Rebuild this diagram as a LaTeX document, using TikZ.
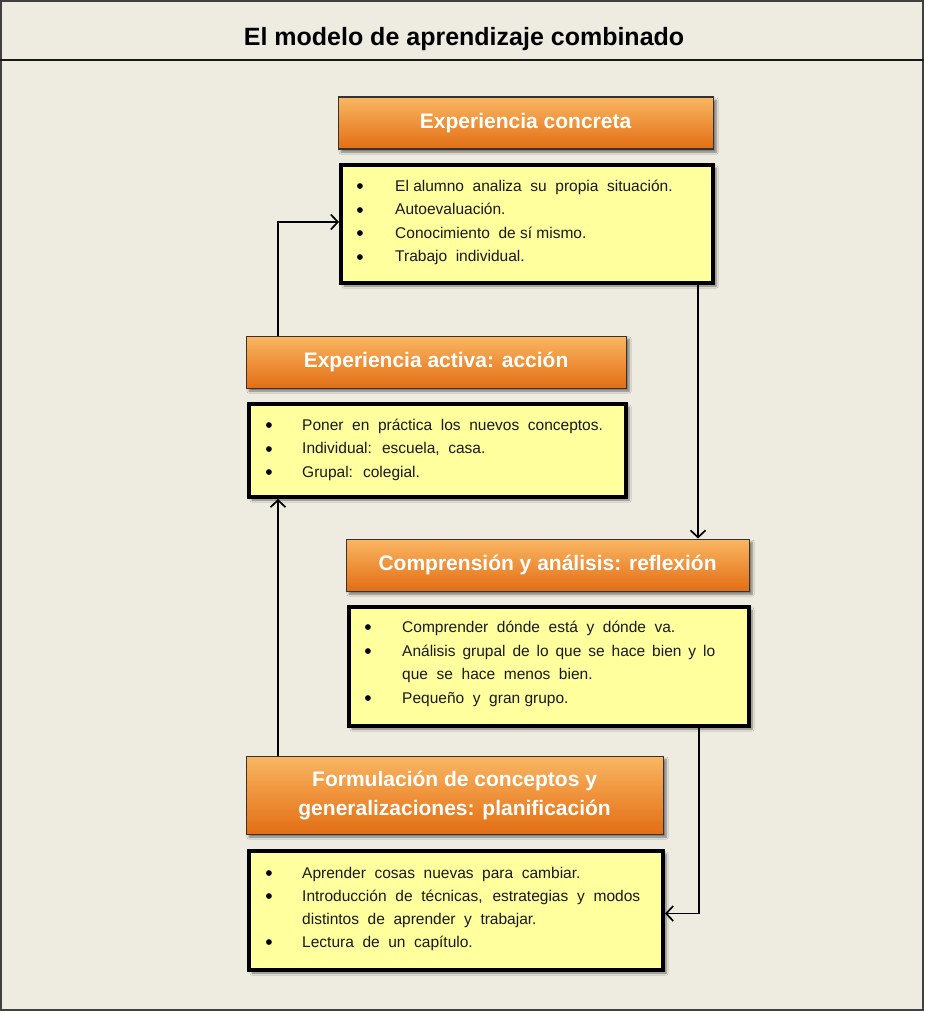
\documentclass[tikz,border=0pt]{standalone}
\usepackage{fontspec}
\setmainfont{Liberation Sans}
\usetikzlibrary{arrows.meta,shadows.blur,calc}

\definecolor{bgbeige}{RGB}{238,235,225}
\definecolor{noteyellow}{RGB}{255,255,158}
\definecolor{orangetop}{RGB}{250,182,98}
\definecolor{orangebot}{RGB}{226,110,20}

\newcommand{\bodyfont}{\fontsize{15.5}{20}\selectfont}
\newcommand{\headfont}{\fontsize{21}{29}\selectfont\bfseries}

\tikzset{
  softshadow/.style={blur shadow={shadow xshift=3pt, shadow yshift=-3pt,
      shadow blur steps=6, shadow opacity=50}},
  headbox/.style={draw=black!80, line width=1.2pt, top color=orangetop,
      bottom color=orangebot, text=white, font=\headfont, align=center,
      anchor=north west, inner sep=0pt, softshadow},
  notebox/.style={draw=black, line width=4pt, fill=noteyellow,
      anchor=north west, inner sep=0pt, softshadow},
  itemtext/.style={anchor=base west, inner sep=0pt, font=\bodyfont, text=black!90},
  itemdot/.style={anchor=base, inner sep=0pt, font=\fontsize{21}{21}\selectfont,
      text=black, yshift=-2.5pt},
  conn/.style={line width=1.7pt, black,
      -{Straight Barb[length=7pt,width=15pt,line width=1.7pt]}},
}

\begin{document}
\begin{tikzpicture}[x=1pt,y=-1pt]
  % page and title bar
  \fill[bgbeige] (0,0) rectangle (924,1011);
  \useasboundingbox (0,0) rectangle (924,1011);
  \draw[line width=1.5pt, black!75] (1,1) rectangle (923,1010);
  \draw[line width=2.2pt, black!90] (0,60) -- (924,60);
  \node[anchor=base, inner sep=0pt, font=\fontsize{25}{30}\selectfont\bfseries]
    (title) at (464,46) {El modelo de aprendizaje combinado};

  % headings
  \node[headbox, minimum width=375pt, minimum height=52pt] (h1) at (337.5,96.5)
    {Experiencia concreta};
  \node[headbox, minimum width=380pt, minimum height=52pt] (h2) at (245.5,335.5)
    {Experiencia activa: acción};
  \node[headbox, minimum width=403pt, minimum height=52pt] (h3) at (345.5,538.5)
    {Comprensión y análisis: reflexión};
  \node[headbox, minimum width=417pt, minimum height=78pt] (h4) at (245.5,755.5)
    {Formulación de conceptos y\\generalizaciones: planificación};

  % note boxes
  \node[notebox, minimum width=372pt, minimum height=118pt] (b1) at (339,163) {};
  \node[notebox, minimum width=377pt, minimum height=93pt]  (b2) at (247,402) {};
  \node[notebox, minimum width=400pt, minimum height=119pt] (b3) at (347,605) {};
  \node[notebox, minimum width=414pt, minimum height=119pt] (b4) at (247,849) {};

  % items of the first box
  \node[itemdot] (b1d1) at (360,191) {•};
  \node[itemtext] (b1t1) at (395,191) {El alumno \ analiza \ su \ propia \ situación.};
  \node[itemdot] (b1d2) at (360,214.5) {•};
  \node[itemtext] (b1t2) at (395,214.5) {Autoevaluación.};
  \node[itemdot] (b1d3) at (360,238) {•};
  \node[itemtext] (b1t3) at (395,238) {Conocimiento \ de sí mismo.};
  \node[itemdot] (b1d4) at (360,261.5) {•};
  \node[itemtext] (b1t4) at (395,261.5) {Trabajo \ individual.};

  % items of the second box
  \node[itemdot] (b2d1) at (269,430) {•};
  \node[itemtext] (b2t1) at (302,430) {Poner \ en \ práctica \ los \ nuevos \ conceptos.};
  \node[itemdot] (b2d2) at (269,453.5) {•};
  \node[itemtext] (b2t2) at (302,453.5) {Individual: \ escuela, \ casa.};
  \node[itemdot] (b2d3) at (269,477) {•};
  \node[itemtext] (b2t3) at (302,477) {Grupal: \ colegial.};

  % items of the third box
  \node[itemdot] (b3d1) at (368,632) {•};
  \node[itemtext] (b3t1) at (402,632) {Comprender \ dónde \ está \ y \ dónde \ va.};
  \node[itemdot] (b3d2) at (368,656) {•};
  \node[itemtext] (b3t2) at (402,656)
    {\makebox[313pt][s]{Análisis grupal de lo que se hace bien y lo}};
  \node[itemtext] (b3t3) at (402,679) {que \ se \ hace \ menos \ bien.};
  \node[itemdot] (b3d4) at (368,703) {•};
  \node[itemtext] (b3t4) at (402,703) {Pequeño \ y \ gran grupo.};

  % items of the fourth box
  \node[itemdot] (b4d1) at (269,878) {•};
  \node[itemtext] (b4t1) at (302,878) {Aprender \ cosas \ nuevas \ para \ cambiar.};
  \node[itemdot] (b4d2) at (269,901) {•};
  \node[itemtext] (b4t2) at (302,901)
    {\makebox[338pt][s]{Introducción de técnicas, estrategias y modos}};
  \node[itemtext] (b4t3) at (302,924) {distintos \ de \ aprender \ y \ trabajar.};
  \node[itemdot] (b4d4) at (269,947) {•};
  \node[itemtext] (b4t4) at (302,947) {Lectura \ de \ un \ capítulo.};

  % cycle connectors
  \coordinate (c1) at ([xshift=32.5pt]h2.north west);
  \draw[conn] (c1) |- ([yshift=2pt]b1.west);
  \coordinate (c2) at ([xshift=-17pt]b1.south east);
  \draw[conn] (c2) -- (c2 |- h3.north);
  \coordinate (c3) at ([xshift=-52pt]b3.south east);
  \draw[conn] (c3) |- ([yshift=-3pt]b4.east);
  \coordinate (c4) at ([xshift=32.5pt]h4.north west);
  \draw[conn] (c4) -- (c4 |- b2.south);
\end{tikzpicture}
\end{document}
